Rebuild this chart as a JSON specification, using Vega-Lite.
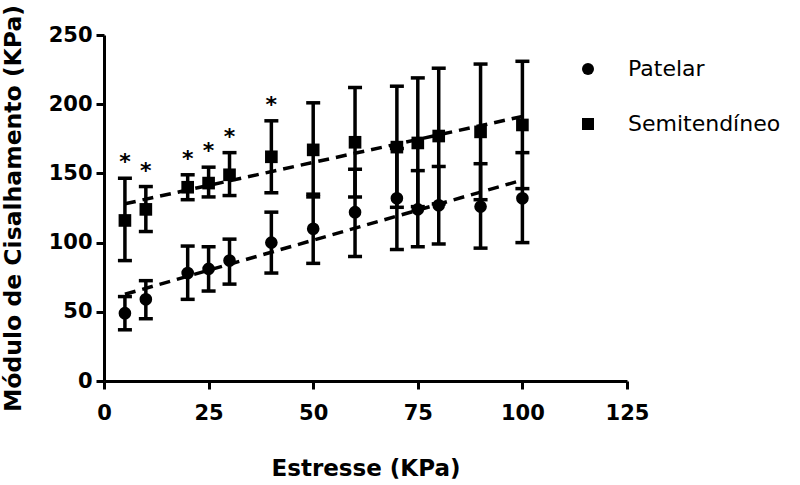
{
  "$schema": "https://vega.github.io/schema/vega-lite/v6.json",
  "width": 523,
  "height": 346,
  "autosize": {"type": "none"},
  "padding": {"left": 104, "top": 35, "right": 173, "bottom": 104},
  "background": "white",
  "config": {
    "view": {"stroke": null},
    "font": "DejaVu Sans",
    "axis": {
      "grid": false,
      "domainColor": "black",
      "domainWidth": 3,
      "tickColor": "black",
      "tickWidth": 3,
      "tickSize": 8,
      "labelFont": "DejaVu Sans",
      "labelFontWeight": "bold",
      "labelFontSize": 21,
      "labelColor": "black",
      "labelPadding": 4,
      "titleFont": "DejaVu Sans",
      "titleFontWeight": "bold",
      "titleFontSize": 23,
      "titleColor": "black"
    },
    "legend": {
      "labelFont": "DejaVu Sans",
      "labelFontSize": 22,
      "labelFontWeight": "normal",
      "labelColor": "black"
    }
  },
  "data": {
    "values": [
      {"estresse": 5, "grupo": "Patelar", "media": 49, "inferior": 37, "superior": 61},
      {"estresse": 10, "grupo": "Patelar", "media": 59, "inferior": 45, "superior": 72.5},
      {"estresse": 20, "grupo": "Patelar", "media": 78, "inferior": 59, "superior": 97.5},
      {"estresse": 25, "grupo": "Patelar", "media": 81, "inferior": 65, "superior": 97},
      {"estresse": 30, "grupo": "Patelar", "media": 87, "inferior": 70, "superior": 102.5},
      {"estresse": 40, "grupo": "Patelar", "media": 100, "inferior": 78, "superior": 122},
      {"estresse": 50, "grupo": "Patelar", "media": 110, "inferior": 85, "superior": 135},
      {"estresse": 60, "grupo": "Patelar", "media": 122, "inferior": 90, "superior": 153},
      {"estresse": 70, "grupo": "Patelar", "media": 132, "inferior": 95, "superior": 168},
      {"estresse": 75, "grupo": "Patelar", "media": 124, "inferior": 97, "superior": 152},
      {"estresse": 80, "grupo": "Patelar", "media": 127, "inferior": 99, "superior": 155},
      {"estresse": 90, "grupo": "Patelar", "media": 126, "inferior": 96, "superior": 157},
      {"estresse": 100, "grupo": "Patelar", "media": 132, "inferior": 100, "superior": 165},
      {"estresse": 5, "grupo": "Semitendíneo", "media": 116, "inferior": 87, "superior": 146.5, "sig": "*"},
      {"estresse": 10, "grupo": "Semitendíneo", "media": 124, "inferior": 108, "superior": 140.5, "sig": "*"},
      {"estresse": 20, "grupo": "Semitendíneo", "media": 140, "inferior": 131, "superior": 149, "sig": "*"},
      {"estresse": 25, "grupo": "Semitendíneo", "media": 143, "inferior": 133, "superior": 154.5, "sig": "*"},
      {"estresse": 30, "grupo": "Semitendíneo", "media": 149, "inferior": 134, "superior": 165, "sig": "*"},
      {"estresse": 40, "grupo": "Semitendíneo", "media": 162, "inferior": 136, "superior": 188, "sig": "*"},
      {"estresse": 50, "grupo": "Semitendíneo", "media": 167, "inferior": 133, "superior": 201},
      {"estresse": 60, "grupo": "Semitendíneo", "media": 172.5, "inferior": 133, "superior": 212},
      {"estresse": 70, "grupo": "Semitendíneo", "media": 169, "inferior": 125.5, "superior": 213},
      {"estresse": 75, "grupo": "Semitendíneo", "media": 172, "inferior": 126, "superior": 219},
      {"estresse": 80, "grupo": "Semitendíneo", "media": 177, "inferior": 128, "superior": 226},
      {"estresse": 90, "grupo": "Semitendíneo", "media": 180, "inferior": 131, "superior": 229},
      {"estresse": 100, "grupo": "Semitendíneo", "media": 185, "inferior": 139, "superior": 231}
    ]
  },
  "encoding": {
    "x": {
      "field": "estresse",
      "type": "quantitative",
      "scale": {"domain": [0, 125], "nice": false},
      "axis": {"values": [0, 25, 50, 75, 100, 125], "title": "Estresse (KPa)", "labelPadding": 13, "titlePadding": 34, "labelFlush": false}
    }
  },
  "layer": [
    {
      "transform": [
        {"regression": "media", "on": "estresse", "groupby": ["grupo"]}
      ],
      "mark": {"type": "line", "color": "black", "strokeWidth": 3.5, "strokeDash": [11, 7]},
      "encoding": {
        "y": {
          "field": "media",
          "type": "quantitative",
          "scale": {"domain": [0, 250], "nice": false},
          "axis": {"values": [0, 50, 100, 150, 200, 250], "title": "Módulo de Cisalhamento (KPa)", "titleFontSize": 23.5, "titlePadding": 23}
        },
        "detail": {"field": "grupo"}
      }
    },
    {
      "mark": {
        "type": "errorbar",
        "color": "black",
        "ticks": {"size": 14, "thickness": 3.5, "color": "black", "opacity": 1},
        "rule": {"strokeWidth": 3.5, "color": "black", "opacity": 1}
      },
      "encoding": {
        "y": {"field": "inferior", "type": "quantitative", "title": "Módulo de Cisalhamento (KPa)"},
        "y2": {"field": "superior"},
        "detail": {"field": "grupo"}
      }
    },
    {
      "mark": {"type": "point", "filled": true, "opacity": 1, "color": "black", "size": 160},
      "encoding": {
        "y": {"field": "media", "type": "quantitative", "title": "Módulo de Cisalhamento (KPa)"},
        "shape": {
          "field": "grupo",
          "type": "nominal",
          "scale": {"domain": ["Patelar", "Semitendíneo"], "range": ["circle", "square"]},
          "legend": {
            "orient": "none",
            "legendX": 473,
            "legendY": 23,
            "title": null,
            "labelOffset": 29,
            "rowPadding": 33,
            "symbolSize": 144,
            "symbolFillColor": "black",
            "symbolStrokeColor": "black",
            "symbolStrokeWidth": 0,
            "symbolOpacity": 1
          }
        }
      }
    },
    {
      "transform": [{"filter": "datum.sig"}],
      "mark": {"type": "text", "font": "DejaVu Sans", "fontSize": 22, "fontWeight": "bold", "color": "black", "baseline": "alphabetic", "dy": -9},
      "encoding": {
        "y": {"field": "superior", "type": "quantitative", "title": "Módulo de Cisalhamento (KPa)"},
        "text": {"field": "sig"}
      }
    }
  ]
}
